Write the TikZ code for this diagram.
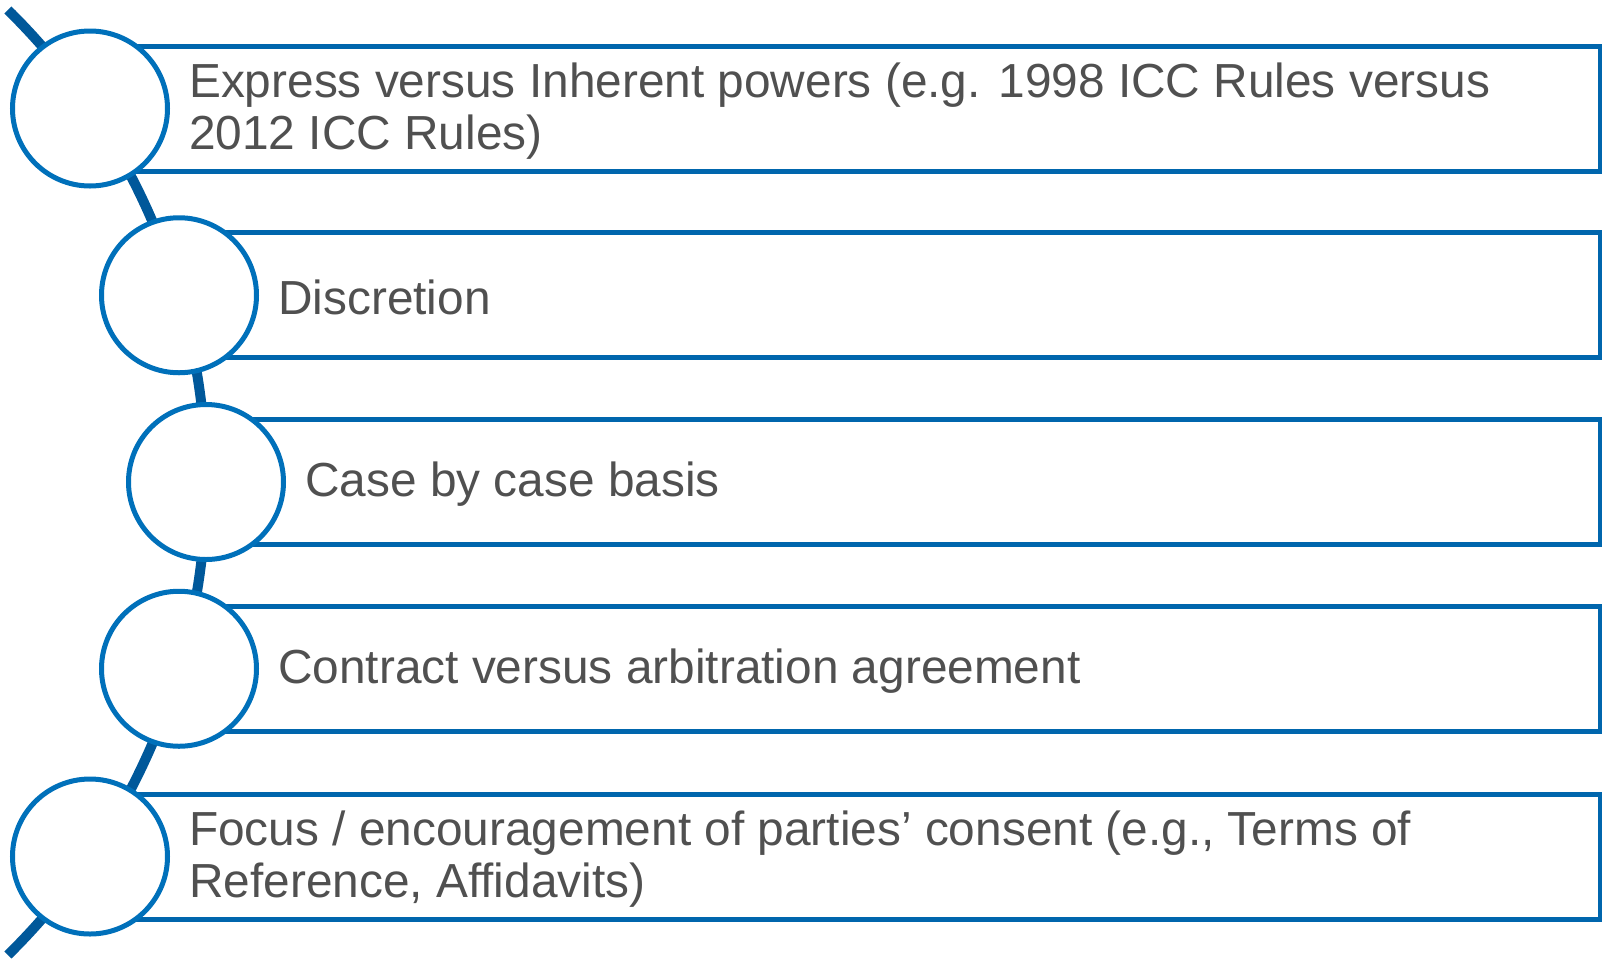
\documentclass[tikz,border=0pt]{standalone}
\usepackage{fontspec}
\setmainfont{Liberation Sans}
\definecolor{arcblue}{HTML}{00589A}
\definecolor{ringblue}{HTML}{0070BA}
\definecolor{boxblue}{HTML}{0066AD}
\definecolor{txtgray}{HTML}{505050}
\tikzset{
  ring/.style={circle, draw=ringblue, line width=5pt, fill=white, minimum size=155pt, inner sep=0pt},
  itembox/.style={rectangle, draw=boxblue, line width=5pt, fill=white, minimum height=125pt, anchor=west, inner sep=0pt},
  itemtext/.style={anchor=west, align=left, inner sep=0pt, yshift=-2.5pt, text=txtgray, font=\fontsize{47.8}{52}\selectfont},
  spine/.style={draw=arcblue, line width=10pt}
}
\begin{document}
\begin{tikzpicture}[x=1pt,y=-1pt]
\useasboundingbox (0,0) rectangle (1602,959);
% spine arc
\coordinate (arcs) at (7.9,10);
\draw[spine] (arcs) arc[start angle=-45.5, end angle=45.5, radius=662.5];
% boxes
\node[itembox, minimum width=1508pt] (b1) at (90,108.5) {};
\node[itembox, minimum width=1419pt] (b2) at (179,295.25) {};
\node[itembox, minimum width=1392pt] (b3) at (206,482) {};
\node[itembox, minimum width=1419pt] (b4) at (179,668.75) {};
\node[itembox, minimum width=1508pt] (b5) at (90,856.5) {};
% circles
\node[ring] (c1) at (90,108.5) {};
\node[ring] (c2) at (179,295.25) {};
\node[ring] (c3) at (206,482) {};
\node[ring] (c4) at (179,668.75) {};
\node[ring] (c5) at (90,856.5) {};
% texts
\node[itemtext] (t1) at (189,108.5) {Express versus Inherent powers (e.g. 1998 ICC Rules versus\\2012 ICC Rules)};
\node[itemtext] (t2) at (278,295.25) {Discretion};
\node[itemtext] (t3) at (305,482) {Case by case basis};
\node[itemtext] (t4) at (278,668.75) {Contract versus arbitration agreement};
\node[itemtext] (t5) at (189,856.5) {Focus / encouragement of parties’ consent (e.g., Terms of\\Reference, Affidavits)};
\end{tikzpicture}
\end{document}
